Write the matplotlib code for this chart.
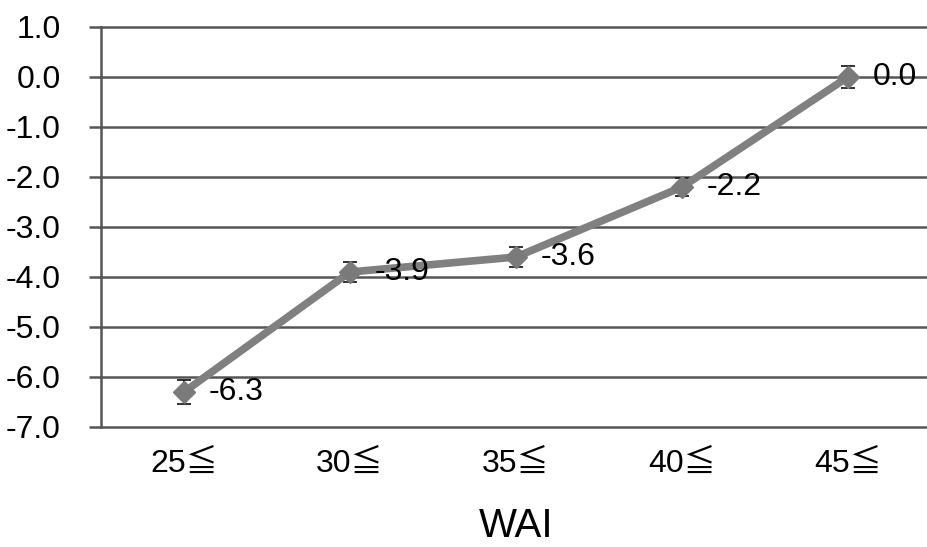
import matplotlib.pyplot as plt

plt.rcParams['font.family'] = ['Liberation Sans', 'Noto Sans CJK JP', 'DejaVu Sans']

categories = ['25≦', '30≦', '35≦', '40≦', '45≦']
values = [-6.3, -3.9, -3.6, -2.2, 0.0]
errors = [0.23, 0.2, 0.2, 0.18, 0.22]
value_labels = ['-6.3', '-3.9', '-3.6', '-2.2', '0.0']

fig = plt.figure(figsize=(9.27, 5.47), dpi=100)
ax = fig.add_axes([101 / 927, 120 / 547, 830 / 927, 400 / 547])

xs = [i + 0.5 for i in range(len(categories))]

for y in range(-7, 2):
    ax.axhline(y, color='#555555', lw=1.8, zorder=1, clip_on=False)

ax.errorbar(xs, values, yerr=errors, fmt='none', ecolor='#222222',
            elinewidth=1.3, capsize=5, capthick=1.3, zorder=2)
ax.plot(xs, values, color='#808080', lw=5.5, marker='D', markersize=11,
        markerfacecolor='#7a7a7a', markeredgecolor='#7a7a7a', zorder=3)

for x, v, lab in zip(xs, values, value_labels):
    ax.annotate(lab, (x, v), xytext=(18, 0), textcoords='offset points',
                ha='left', va='center', fontsize=23, zorder=4)

ax.set_xlim(0, 5)
ax.set_ylim(-7, 1)
ax.set_xticks(xs)
ax.set_xticklabels(categories, fontsize=23)
ax.set_yticks(range(-7, 2))
ax.set_yticklabels(['%.1f' % y for y in range(-7, 2)], fontsize=23)
ax.tick_params(axis='x', length=0, pad=16)
ax.tick_params(axis='y', length=9, width=1.8, color='#555555', pad=20)

for side in ['top', 'right', 'bottom']:
    ax.spines[side].set_visible(False)
ax.spines['left'].set_color('#555555')
ax.spines['left'].set_linewidth(1.8)

ax.set_xlabel('WAI', fontsize=29, labelpad=20)

plt.savefig('out.png')
